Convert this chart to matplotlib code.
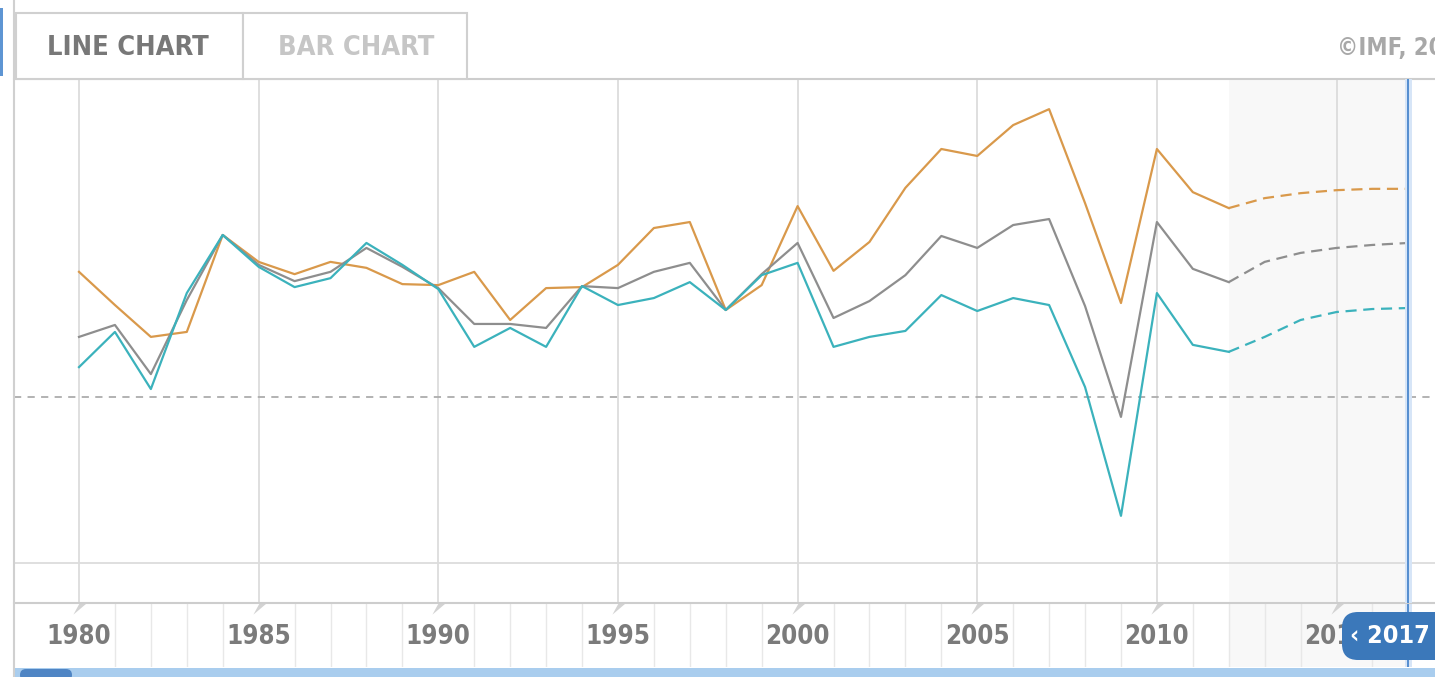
import numpy as np
import matplotlib.pyplot as plt
from matplotlib import font_manager
from matplotlib.patches import Rectangle, FancyBboxPatch
from matplotlib.lines import Line2D
from matplotlib.transforms import Affine2D

years = list(range(1980, 2018))
last_actual = 2012
label_years = list(range(1980, 2016, 5))

orange = [3.77, 2.77, 1.81, 1.96, 4.88, 4.07, 3.70, 4.07, 3.89, 3.40,
          3.37, 3.77, 2.32, 3.28, 3.31, 3.98, 5.09, 5.27, 2.62, 3.37,
          5.75, 3.80, 4.67, 6.30, 7.47, 7.26, 8.19, 8.67, 5.84, 2.83,
          7.47, 6.17, 5.69, 5.99, 6.14, 6.23, 6.27, 6.27]
gray = [1.81, 2.17, 0.69, 2.92, 4.88, 3.98, 3.49, 3.77, 4.49, 3.92,
        3.28, 2.20, 2.20, 2.08, 3.34, 3.28, 3.77, 4.04, 2.62, 3.70,
        4.64, 2.38, 2.89, 3.67, 4.85, 4.49, 5.18, 5.36, 2.74, -0.60,
        5.27, 3.86, 3.46, 4.07, 4.34, 4.49, 4.58, 4.64]
teal = [0.90, 1.96, 0.24, 3.13, 4.88, 3.92, 3.31, 3.58, 4.64, 3.98,
        3.25, 1.51, 2.08, 1.51, 3.34, 2.77, 2.98, 3.46, 2.62, 3.67,
        4.04, 1.51, 1.81, 1.99, 3.07, 2.59, 2.98, 2.77, 0.30, -3.58,
        3.13, 1.57, 1.36, 1.81, 2.32, 2.56, 2.65, 2.68]

W, H = 1435, 677
fig = plt.figure(figsize=(W / 100, H / 100), dpi=100)
pix = Affine2D().scale(1 / W, -1 / H).translate(0, 1) + fig.transFigure


def px(x0, y0, x1, y1):
    return [x0 / W, 1 - y1 / H, (x1 - x0) / W, (y1 - y0) / H]


names = {f.name for f in font_manager.fontManager.ttflist}
if 'Liberation Sans Narrow' in names:
    cond = dict(family='Liberation Sans Narrow', weight='bold')
else:
    cond = dict(family='DejaVu Sans', weight='bold', stretch='condensed')

xlim = (1980 - 65 / 35.93, 1980 + 1356 / 35.93)

# navigator band below the chart (added first so main labels sit on top)
axb = fig.add_axes(px(14, 603, 1435, 667))
axb.set_xlim(xlim)
axb.set_ylim(0, 1)
axb.set_xticks([y for y in years if y % 5], minor=True)
axb.set_xticks([])
axb.set_yticks([])
axb.grid(which='minor', axis='x', color='#e8e8e8', lw=1)
axb.tick_params(which='both', length=0)
for s in axb.spines.values():
    s.set_visible(False)
axb.axvspan(last_actual, 2017, color='#f8f8f8', zorder=0, lw=0)
tri = [(-6, -11), (7, 0), (0, 0)]
axb.plot(label_years, [1] * len(label_years), ls='none', marker=tri,
         ms=16, color='#d3d3d3', mec='none', clip_on=False)
axb.axvline(2017, color='#d6e5f7', lw=5)
axb.axvline(2017, color='#4a86cc', lw=1.3)

# main chart
ax = fig.add_axes(px(14, 79, 1435, 603))
ax.set_xlim(xlim)
ax.set_ylim(-206 / 33.2, 318 / 33.2)
ax.set_xticks(label_years)
ax.set_yticks([-5])
ax.grid(axis='both', color='#dcdcdc', lw=1.3)
ax.set_axisbelow(True)
ax.tick_params(axis='y', length=0, labelleft=False)
ax.tick_params(axis='x', length=0, pad=15, labelsize=18.5, labelcolor='#7b7b7b')
for lbl in ax.get_xticklabels():
    lbl.set(**cond)
ax.spines['left'].set_visible(False)
ax.spines['right'].set_visible(False)
for s in ('top', 'bottom'):
    ax.spines[s].set_color('#cdcdcd')
    ax.spines[s].set_linewidth(1.5)

ax.axvspan(last_actual, 2017, color='#f8f8f8', zorder=0, lw=0)
ax.axhline(0, color='#adadad', lw=1.3, ls=(0, (4, 3.5)), zorder=1)

i = years.index(last_actual)
for vals, col in [(orange, '#d9994b'), (gray, '#8e8e8e'), (teal, '#3bb2bc')]:
    ax.plot(years[:i + 1], vals[:i + 1], color=col, lw=1.6, zorder=3)
    ax.plot(years[i:], vals[i:], color=col, lw=1.6, ls=(0, (5, 3)), zorder=3)

ax.axvline(2017, color='#d6e5f7', lw=5, zorder=4)
ax.axvline(2017, color='#4a86cc', lw=1.3, zorder=5)

# tabs and header
fig.add_artist(Rectangle((16, 13), 227, 66, transform=pix, fc='white',
                         ec='#d0d0d0', lw=1.5))
fig.add_artist(Rectangle((243, 13), 224, 66, transform=pix, fc='white',
                         ec='#d0d0d0', lw=1.5))
fig.text(128 / W, 1 - 48 / H, 'LINE CHART', ha='center', va='center',
         fontsize=19.5, color='#787878', **cond)
fig.text(356 / W, 1 - 48 / H, 'BAR CHART', ha='center', va='center',
         fontsize=19.5, color='#c6c6c6', **cond)
fig.text(1337 / W, 1 - 48 / H, '©IMF, 2017', ha='left', va='center',
         fontsize=17, color='#a8a8a8', **cond)

# frame line and blue edge on the left
fig.add_artist(Line2D([14, 14], [0, 677], transform=pix, color='#d0d0d0', lw=1.5))
fig.add_artist(Rectangle((0, 8), 3, 68, transform=pix, fc='#5e95d3', ec='none'))

# scrollbar
fig.add_artist(Rectangle((15, 668), 1420, 9, transform=pix, fc='#a9cdee', ec='none'))
fig.add_artist(FancyBboxPatch((20, 669), 52, 12, transform=pix, fc='#4f85c4',
                              ec='none', boxstyle='round,pad=0,rounding_size=6'))

# selected-year badge
fig.add_artist(FancyBboxPatch((1342, 612), 110, 48, transform=pix, fc='#3b78ba',
                              ec='none', boxstyle='round,pad=0,rounding_size=16'))
fig.text(1350 / W, 1 - 636 / H, '‹ 2017', ha='left', va='center',
         fontsize=18, color='white', **cond)

fig.savefig('out.png', dpi=100)
